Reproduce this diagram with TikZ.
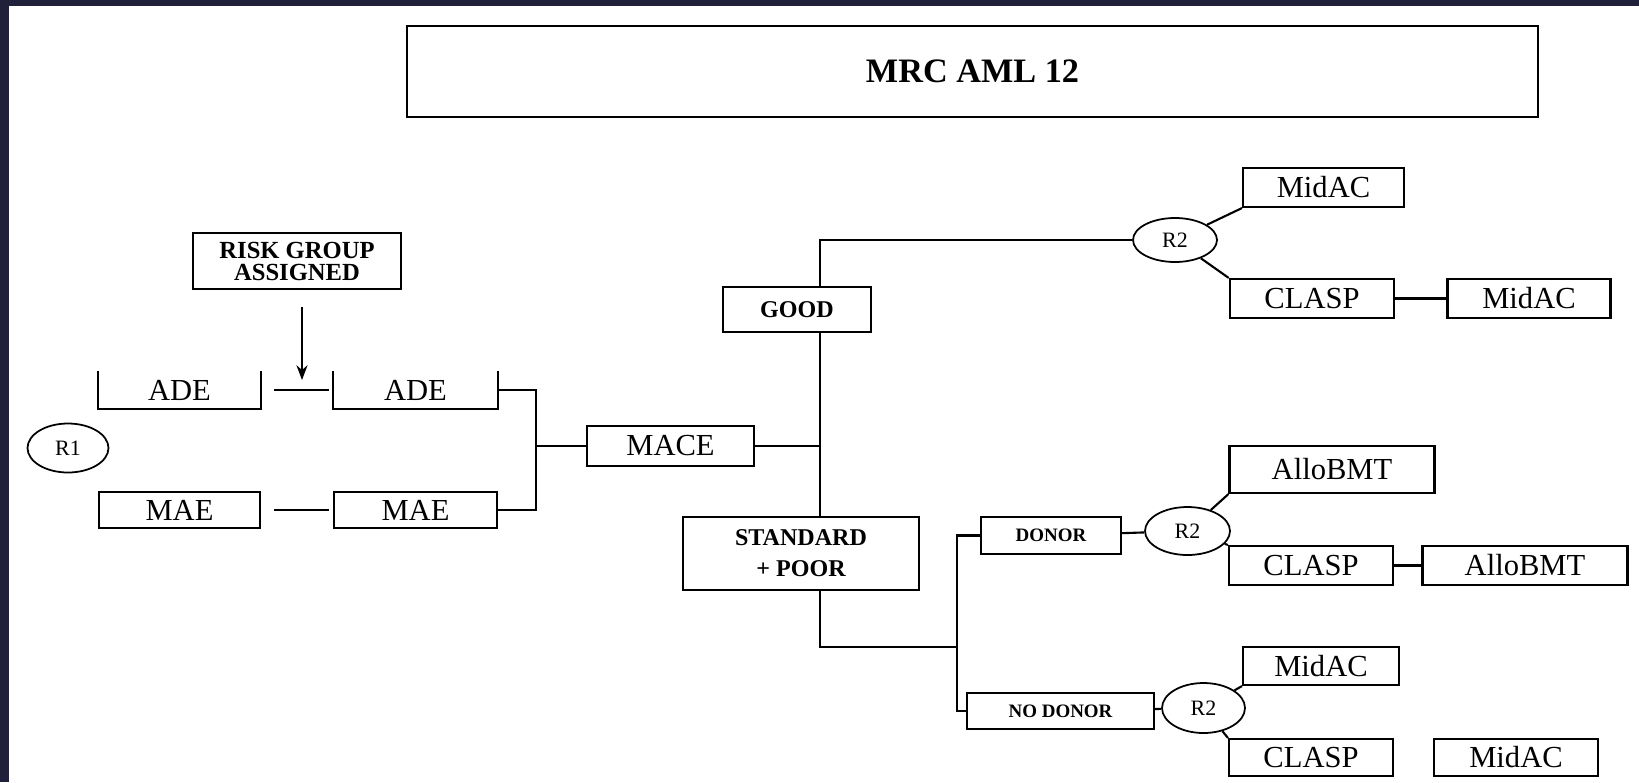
\documentclass[tikz,border=0pt]{standalone}
\usepackage{fontspec}
\setmainfont{Liberation Serif}
\usetikzlibrary{arrows.meta,shapes.geometric}
\definecolor{frame}{RGB}{32,32,58}

\begin{document}
\begin{tikzpicture}[x=0.02cm,y=-0.02cm,>=Stealth,line width=1.2pt,
    box/.style={draw,rectangle,inner sep=0pt,font=\fontsize{17.4}{20}\selectfont},
    bbox/.style={draw,rectangle,inner sep=0pt,align=center,font=\bfseries\fontsize{13.7}{17.6}\selectfont},
    sbox/.style={draw,rectangle,inner sep=0pt,font=\bfseries\fontsize{10.8}{12}\selectfont},
    rand/.style={draw,ellipse,inner sep=0pt,line width=1pt,font=\fontsize{12.5}{14}\selectfont}]
      \useasboundingbox (0,0) rectangle (1639,782);
      \fill[frame] (0,0) rectangle (1639,782);
      \fill[white] (9,6) rectangle (1639,782);
      \node[draw,rectangle,minimum width=22.62cm,minimum height=1.82cm,font=\bfseries\fontsize{19.5}{22}\selectfont] (title) at (972.5,71.5) {MRC AML 12};
      \node[draw,rectangle,minimum width=4.16cm,minimum height=1.12cm,align=center,font=\bfseries\fontsize{14}{12.5}\selectfont] (risk) at (297,261) {RISK GROUP\\ASSIGNED};
      \node[box,draw=none,minimum width=3.22cm,minimum height=0.72cm] (ade1) at (179.5,390) {ADE};
      \node[box,draw=none,minimum width=3.26cm,minimum height=0.72cm] (ade2) at (415.5,390) {ADE};
      \node[box,minimum width=3.22cm,minimum height=0.72cm] (mae1) at (179.5,510) {MAE};
      \node[box,minimum width=3.26cm,minimum height=0.72cm] (mae2) at (415.5,510) {MAE};
      \node[rand,minimum width=1.62cm,minimum height=0.98cm] (r1) at (68,448) {R1};
      \node[box,minimum width=3.34cm,minimum height=0.80cm] (mace) at (670.5,446) {MACE};
      \node[bbox,minimum width=2.96cm,minimum height=0.90cm] (good) at (797,309.5) {GOOD};
      \node[bbox,minimum width=4.72cm,minimum height=1.46cm] (std) at (801,553.5) {STANDARD\\+ POOR};
      \node[sbox,minimum width=2.80cm,minimum height=0.74cm] (donor) at (1051,535.5) {DONOR};
      \node[sbox,minimum width=3.74cm,minimum height=0.72cm] (nodonor) at (1060.5,711) {NO DONOR};
      \node[rand,minimum width=1.68cm,minimum height=0.88cm] (r2a) at (1175,240) {R2};
      \node[rand,minimum width=1.70cm,minimum height=0.96cm] (r2b) at (1187.5,531) {R2};
      \node[rand,minimum width=1.66cm,minimum height=1.00cm] (r2c) at (1203.5,708) {R2};
      \node[box,minimum width=3.22cm,minimum height=0.78cm] (midac1) at (1323.5,187.5) {MidAC};
      \node[box,minimum width=3.29cm,minimum height=0.78cm] (clasp1) at (1312,298.5) {CLASP};
      \node[box,minimum width=3.26cm,minimum height=0.78cm] (midac2) at (1529,298.5) {MidAC};
      \node[box,minimum width=4.10cm,minimum height=0.94cm] (allo1) at (1332,469.5) {AlloBMT};
      \node[box,minimum width=3.28cm,minimum height=0.78cm] (clasp2) at (1311,565.5) {CLASP};
      \node[box,minimum width=4.10cm,minimum height=0.78cm] (allo2) at (1525,565.5) {AlloBMT};
      \node[box,minimum width=3.12cm,minimum height=0.76cm] (midac3) at (1321,666) {MidAC};
      \node[box,minimum width=3.28cm,minimum height=0.74cm] (clasp3) at (1311,757.5) {CLASP};
      \node[box,minimum width=3.28cm,minimum height=0.74cm] (midac4) at (1516,757.5) {MidAC};
      \coordinate (tip) at (302,380);
      \coordinate (join) at (536,446);
      \coordinate (trunk) at (820,446);
      \coordinate (split) at (957,647);
      \draw (ade1.north west) |- (ade1.south east) -- (ade1.north east);
      \draw (ade2.north west) |- (ade2.south east) -- (ade2.north east);
      \draw[->,shorten <=0.34cm] (risk.south -| tip) -- (tip);
      \draw[shorten <=0.26cm,shorten >=0.08cm] (ade1) -- (ade2);
      \draw[shorten <=0.26cm,shorten >=0.08cm] (mae1) -- (mae2);
      \draw (ade2.east) -| (join) |- (mae2.east);
      \draw (join) -- (mace);
      \draw (mace) -- (mace -| trunk);
      \draw (r2a) -| (good.north -| trunk);
      \draw (good.south -| trunk) -- (std.north -| trunk);
      \draw (std.south -| trunk) |- (split);
      \draw (donor) -| (split) |- (nodonor);
      \draw (donor) -- (r2b);
      \draw (nodonor) -- (r2c);
      \draw (r2a) -- (midac1.south west);
      \draw (r2a) -- (clasp1.north west);
      \draw (clasp1) -- (midac2);
      \draw (r2b) -- (allo1.south west);
      \draw (r2b) -- (clasp2.north west);
      \draw (clasp2) -- (allo2);
      \draw (r2c) -- (midac3.south west);
      \draw (r2c) -- (clasp3.north west);
    \end{tikzpicture}
\end{document}
